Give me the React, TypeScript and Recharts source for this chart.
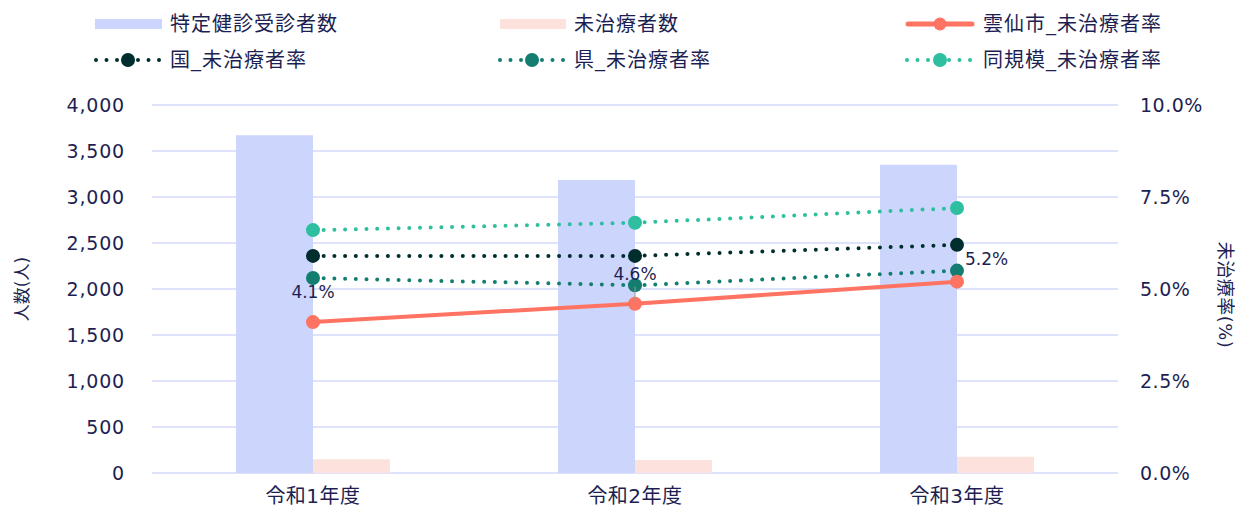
import React from 'react';
import { ComposedChart, Bar, Line, XAxis, YAxis, CartesianGrid, LabelList } from 'recharts';

const categories = ['令和1年度', '令和2年度', '令和3年度'];
const examinees = [3670, 3185, 3350];
const untreated = [150, 140, 177];
const unzenRate = [4.1, 4.6, 5.2];
const nationalRate = [5.9, 5.9, 6.2];
const prefRate = [5.3, 5.1, 5.5];
const similarRate = [6.6, 6.8, 7.2];
const leftTicks = [0, 500, 1000, 1500, 2000, 2500, 3000, 3500, 4000];
const rightTicks = [0, 2.5, 5, 7.5, 10];

const data = categories.map((c, i) => ({
  name: c,
  examinees: examinees[i],
  untreated: untreated[i],
  unzen: unzenRate[i],
  national: nationalRate[i],
  pref: prefRate[i],
  similar: similarRate[i],
}));

const FONT = "'DejaVu Sans', 'Noto Sans CJK JP', sans-serif";
const TEXT = '#1d1f52';
const C_BAR = '#ccd5fc';
const C_UNT = '#fde1dc';
const C_UNZEN = '#ff7363';
const C_NAT = '#002d2d';
const C_PREF = '#137e70';
const C_SIM = '#2dbf9f';
const GRID = '#d3d9fa';

const RateLabel = (props: any) => {
  const { x, y, value, index } = props;
  const txt = `${Number(value).toFixed(1)}%`;
  if (index === 2) {
    return (
      <text x={x + 8} y={y - 23} fill={TEXT} fontSize={17} fontFamily={FONT} dominantBaseline="central" textAnchor="start">
        {txt}
      </text>
    );
  }
  return (
    <g>
      {index === 1 && <line x1={x} y1={y - 17} x2={x} y2={y - 2} stroke="#999" strokeWidth={1} />}
      <text x={x} y={y - 30} fill={TEXT} fontSize={17} fontFamily={FONT} dominantBaseline="central" textAnchor="middle">
        {txt}
      </text>
    </g>
  );
};

const LeftTitle = (props: any) => {
  const vb = props.viewBox || {};
  const cx = 22;
  const cy = vb.y + vb.height / 2;
  return (
    <text x={cx} y={cy} transform={`rotate(-90 ${cx} ${cy})`} textAnchor="middle" dominantBaseline="central" fill={TEXT} fontSize={17} fontFamily={FONT}>
      人数(人)
    </text>
  );
};

const RightTitle = (props: any) => {
  const vb = props.viewBox || {};
  const cx = vb.x + vb.width - 10;
  const cy = vb.y + vb.height / 2 + 6;
  return (
    <text x={cx} y={cy} transform={`rotate(90 ${cx} ${cy})`} textAnchor="middle" dominantBaseline="central" fill={TEXT} fontSize={18} fontFamily={FONT} letterSpacing={0.5}>
      未治療率(%)
    </text>
  );
};

const legendItems = [
  { label: '特定健診受診者数', type: 'bar', color: C_BAR, x: 95, tx: 170, y: 24 },
  { label: '未治療者数', type: 'bar', color: C_UNT, x: 500, tx: 574, y: 24 },
  { label: '雲仙市_未治療者率', type: 'line', color: C_UNZEN, x: 905, tx: 983, y: 24 },
  { label: '国_未治療者率', type: 'dot', color: C_NAT, x: 94, tx: 170, y: 60 },
  { label: '県_未治療者率', type: 'dot', color: C_PREF, x: 498, tx: 574, y: 60 },
  { label: '同規模_未治療者率', type: 'dot', color: C_SIM, x: 905, tx: 983, y: 60 },
];

const LegendIcon = ({ type, color, w }: { type: string; color: string; w: number }) => {
  if (type === 'bar') {
    return (
      <svg width={w} height={24} style={{ display: 'block' }}>
        <rect x={0} y={7} width={w} height={10} fill={color} />
      </svg>
    );
  }
  if (type === 'line') {
    return (
      <svg width={w} height={24} style={{ display: 'block' }}>
        <line x1={3} y1={12} x2={w - 3} y2={12} stroke={color} strokeWidth={5} strokeLinecap="round" />
        <circle cx={w / 2} cy={12} r={6.5} fill={color} />
      </svg>
    );
  }
  return (
    <svg width={w} height={24} style={{ display: 'block' }}>
      <line x1={2} y1={12} x2={w - 2} y2={12} stroke={color} strokeWidth={4} strokeLinecap="round" strokeDasharray="0 10.5" />
      <circle cx={w / 2} cy={12} r={7} fill={color} />
    </svg>
  );
};

export default function App() {
  return (
    <div style={{ position: 'absolute', left: 0, top: 0, width: 1235, height: 511, background: '#fff', fontFamily: FONT }}>
      {legendItems.map((it) => (
        <React.Fragment key={it.label}>
          <div style={{ position: 'absolute', left: it.x, top: it.y - 12 }}>
            <LegendIcon type={it.type} color={it.color} w={it.tx - it.x - 8} />
          </div>
          <div
            style={{
              position: 'absolute',
              left: it.tx,
              top: it.y - 14,
              height: 28,
              lineHeight: '28px',
              color: TEXT,
              fontSize: 20,
              letterSpacing: 1,
              whiteSpace: 'nowrap',
            }}
          >
            {it.label}
          </div>
        </React.Fragment>
      ))}
      <ComposedChart
        width={1235}
        height={511}
        data={data}
        margin={{ top: 105, right: 0, left: 0, bottom: 8 }}
        barGap={0}
        style={{ position: 'absolute', left: 0, top: 0 }}
      >
        <CartesianGrid yAxisId="left" vertical={false} stroke={GRID} strokeWidth={1.5} />
        <XAxis
          dataKey="name"
          axisLine={false}
          tickLine={false}
          tick={{ fill: TEXT, fontSize: 20, fontFamily: FONT, letterSpacing: 0.5 }}
          tickMargin={10}
        />
        <YAxis
          yAxisId="left"
          width={152}
          domain={[0, 4000]}
          ticks={leftTicks}
          axisLine={false}
          tickLine={false}
          tickMargin={21}
          tick={{ fill: TEXT, fontSize: 19, fontFamily: FONT, letterSpacing: 0.8 }}
          tickFormatter={(v: number) => v.toLocaleString('en-US')}
          label={<LeftTitle />}
        />
        <YAxis
          yAxisId="right"
          orientation="right"
          width={117}
          domain={[0, 10]}
          ticks={rightTicks}
          axisLine={false}
          tickLine={false}
          tickMargin={16}
          tick={{ fill: TEXT, fontSize: 19, fontFamily: FONT, letterSpacing: 0.5 }}
          tickFormatter={(v: number) => `${v.toFixed(1)}%`}
          label={<RightTitle />}
        />
        <Bar yAxisId="left" dataKey="examinees" fill={C_BAR} barSize={77} isAnimationActive={false} />
        <Bar yAxisId="left" dataKey="untreated" fill={C_UNT} barSize={77} isAnimationActive={false} />
        <Line
          yAxisId="right"
          dataKey="similar"
          stroke={C_SIM}
          strokeWidth={4}
          strokeLinecap="round"
          strokeDasharray="0 10.7"
          dot={{ r: 7, fill: C_SIM, stroke: 'none' }}
          isAnimationActive={false}
        />
        <Line
          yAxisId="right"
          dataKey="national"
          stroke={C_NAT}
          strokeWidth={4}
          strokeLinecap="round"
          strokeDasharray="0 10.7"
          dot={{ r: 7, fill: C_NAT, stroke: 'none' }}
          isAnimationActive={false}
        />
        <Line
          yAxisId="right"
          dataKey="pref"
          stroke={C_PREF}
          strokeWidth={4}
          strokeLinecap="round"
          strokeDasharray="0 10.7"
          dot={{ r: 7, fill: C_PREF, stroke: 'none' }}
          isAnimationActive={false}
        />
        <Line
          yAxisId="right"
          dataKey="unzen"
          stroke={C_UNZEN}
          strokeWidth={4}
          dot={{ r: 7, fill: C_UNZEN, stroke: 'none' }}
          isAnimationActive={false}
        >
          <LabelList dataKey="unzen" content={RateLabel} />
        </Line>
      </ComposedChart>
    </div>
  );
}
